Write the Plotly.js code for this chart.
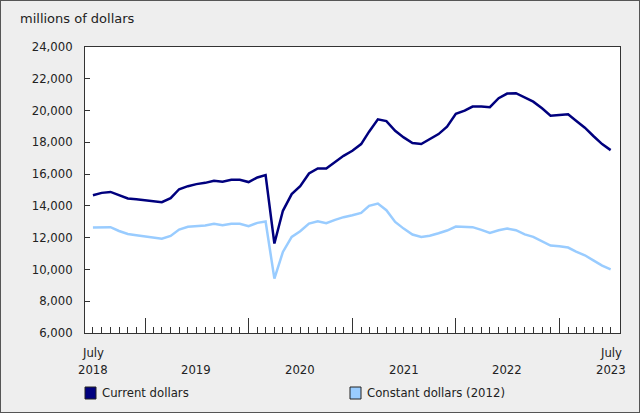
<!DOCTYPE html>
<html>
<head>
<meta charset="utf-8">
<script src="https://cdn.plot.ly/plotly-3.0.1.min.js"></script>
<style>
html,body{margin:0;padding:0;background:#eeeeee;}
#chart{width:640px;height:413px;box-sizing:border-box;border:1px solid #555;}
</style>
</head>
<body>
<div id="chart"></div>
<script>
// Monthly categories, July 2018 to July 2023
var months = [
  '2018-07','2018-08','2018-09','2018-10','2018-11','2018-12',
  '2019-01','2019-02','2019-03','2019-04','2019-05','2019-06','2019-07','2019-08','2019-09','2019-10','2019-11','2019-12',
  '2020-01','2020-02','2020-03','2020-04','2020-05','2020-06','2020-07','2020-08','2020-09','2020-10','2020-11','2020-12',
  '2021-01','2021-02','2021-03','2021-04','2021-05','2021-06','2021-07','2021-08','2021-09','2021-10','2021-11','2021-12',
  '2022-01','2022-02','2022-03','2022-04','2022-05','2022-06','2022-07','2022-08','2022-09','2022-10','2022-11','2022-12',
  '2023-01','2023-02','2023-03','2023-04','2023-05','2023-06','2023-07'
];

// Current dollars (millions)
var currentDollars = [
  14670, 14820, 14880, 14660, 14470, 14420,
  14360, 14280, 14230, 14490, 15050, 15240, 15370, 15450, 15580, 15520, 15640, 15640,
  15500, 15790, 15940, 11630, 13690, 14740, 15240, 16040, 16360, 16360, 16780, 17150,
  17470, 17890, 18670, 19450, 19340, 18730, 18310, 17960, 17890, 18180, 18520, 18990,
  19790, 19990, 20250, 20250, 20210, 20780, 21070, 21090, 20840, 20560, 20140, 19680,
  19720, 19760, 19360, 18920, 18400, 17890, 17510
];

// Constant dollars (2012) (millions)
var constantDollars = [
  12640, 12660, 12660, 12420, 12230, 12150,
  12070, 11980, 11940, 12110, 12510, 12680, 12740, 12760, 12870, 12780, 12870, 12870,
  12720, 12930, 13020, 9420, 11100, 12050, 12400, 12890, 13030, 12910, 13120, 13290,
  13410, 13560, 14000, 14150, 13730, 12990, 12570, 12200, 12050, 12120, 12280, 12450,
  12700, 12660, 12660, 12490, 12300, 12470, 12570, 12470, 12210, 12050, 11770, 11500,
  11460, 11380, 11120, 10890, 10570, 10240, 10010
];

// Axis ticks and labels
var yearTicks = ['2019-01-01','2020-01-01','2021-01-01','2022-01-01','2023-01-01'];
var labelDates = ['2018-07-01','2019-07-01','2020-07-01','2021-07-01','2022-07-01','2023-07-01'];
var monthLabels = ['July','','','','','July'];
var yearLabels = ['2018','2019','2020','2021','2022','2023'];
var seriesNames = ['Current dollars','Constant dollars (2012)'];
var seriesColors = ['#00007e','#99ccff'];

var FONT = 'DejaVu Sans, Verdana, sans-serif';
var TXT = '#222222';
var FS = 11.7;
var XRANGE = ['2018-06-03', '2023-08-03'];

var traces = [
  {x: months, y: currentDollars, type: 'scatter', mode: 'lines', name: seriesNames[0],
   line: {color: seriesColors[0], width: 2.5}, showlegend: false},
  {x: months, y: constantDollars, type: 'scatter', mode: 'lines', name: seriesNames[1],
   line: {color: seriesColors[1], width: 2.5}, showlegend: false},
  // carrier for the year-boundary tick axis (draws nothing)
  {x: yearTicks, y: yearTicks.map(function(){return null;}), type: 'scatter', mode: 'lines',
   xaxis: 'x2', yaxis: 'y', showlegend: false, hoverinfo: 'skip'}
];

var annotations = [];
labelDates.forEach(function(d, i){
  if (monthLabels[i]) {
    annotations.push({x: d, xref: 'x', y: -(353-333)/286, yref: 'paper',
      yanchor: 'middle', xanchor: 'center', showarrow: false,
      text: monthLabels[i], font: {family: FONT, size: FS, color: TXT}});
  }
  annotations.push({x: d, xref: 'x', y: -(370-333)/286, yref: 'paper',
    yanchor: 'middle', xanchor: 'center', showarrow: false,
    text: yearLabels[i], font: {family: FONT, size: FS, color: TXT}});
});

// Legend (swatch + label) placed below the plot
var legendX = [0, (350-85)/535];
var shapes = [];
seriesNames.forEach(function(n, i){
  shapes.push({type: 'rect', xref: 'paper', yref: 'paper',
    x0: legendX[i], x1: legendX[i] + 11/535,
    y0: -(387-333)/286, y1: -(399-333)/286,
    fillcolor: seriesColors[i], line: {color: '#222', width: 1}});
  annotations.push({x: legendX[i] + 15/535, xref: 'paper', y: -(393-333)/286, yref: 'paper',
    xanchor: 'left', yanchor: 'middle', showarrow: false,
    text: n, font: {family: FONT, size: FS, color: TXT}});
});

var layout = {
  width: 638, height: 411,
  margin: {l: 84, r: 19, t: 46, b: 79, pad: 0, autoexpand: false},
  paper_bgcolor: '#eeeeee',
  plot_bgcolor: '#ffffff',
  font: {family: FONT, size: FS, color: TXT},
  title: {text: 'millions of dollars', font: {family: FONT, size: 13, color: TXT},
          xref: 'container', x: 19/638, xanchor: 'left',
          yref: 'container', y: 1 - 17/411, yanchor: 'middle'},
  xaxis: {
    type: 'date', range: XRANGE,
    tickmode: 'linear', tick0: '2018-07-01', dtick: 'M1',
    ticks: 'inside', ticklen: 6, tickcolor: '#333', tickwidth: 1,
    showticklabels: false,
    showgrid: false, zeroline: false,
    showline: true, linecolor: '#333', linewidth: 1, mirror: true,
    fixedrange: true
  },
  xaxis2: {
    type: 'date', range: XRANGE, overlaying: 'x', anchor: 'y', side: 'bottom',
    tickmode: 'array', tickvals: yearTicks,
    ticks: 'inside', ticklen: 15, tickcolor: '#333', tickwidth: 1,
    showticklabels: false,
    showgrid: false, zeroline: false, showline: false,
    fixedrange: true
  },
  yaxis: {
    range: [6000, 24000], dtick: 2000, tick0: 6000,
    tickformat: ',d',
    ticks: 'inside', ticklen: 5, tickcolor: '#333', tickwidth: 1,
    ticklabelstandoff: 9,
    showgrid: false, zeroline: false,
    showline: true, linecolor: '#333', linewidth: 1, mirror: true,
    tickfont: {family: FONT, size: FS, color: TXT},
    fixedrange: true
  },
  annotations: annotations,
  shapes: shapes,
  showlegend: false,
  hovermode: false
};

Plotly.newPlot('chart', traces, layout, {displayModeBar: false, staticPlot: true});
</script>
</body>
</html>
